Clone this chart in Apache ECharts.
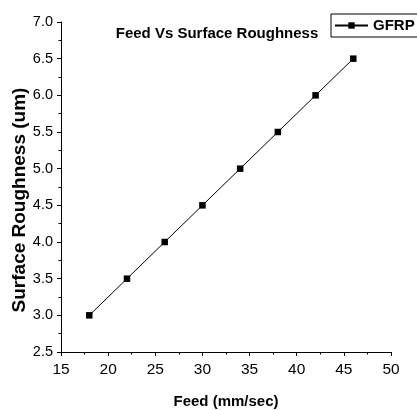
<!DOCTYPE html>
<html><head><meta charset="utf-8">
<script src="https://cdn.jsdelivr.net/npm/echarts@6/dist/echarts.min.js"></script>
<style>html,body{margin:0;padding:0;background:#fff}#c{width:417px;height:410px}</style>
</head><body><div id="c"></div>
<script>
const feed = [18, 22, 26, 30, 34, 38, 42, 46];
const roughness = [3.0, 3.5, 4.0, 4.5, 5.0, 5.5, 6.0, 6.5];
const seriesName = 'GFRP';
const chart = echarts.init(document.getElementById('c'));
const font = "'Liberation Sans', Arial, sans-serif";
chart.setOption({
  animation: false,
  backgroundColor: '#fff',
  title: {
    text: 'Feed Vs Surface Roughness',
    left: 217, top: 26, textAlign: 'center', padding: 0,
    textStyle: {fontFamily: font, fontWeight: 'bold', fontSize: 15, color: '#000'}
  },
  legend: {
    data: [seriesName],
    left: 331, top: 14,
    padding: [4, 6, 4, 3],
    itemWidth: 33, itemHeight: 8, itemGap: 4,
    borderColor: '#000', borderWidth: 1, borderRadius: 0,
    textStyle: {fontFamily: font, fontWeight: 'bold', fontSize: 15, color: '#000'}
  },
  grid: {left: 61, top: 22, width: 330, height: 330, containLabel: false, outerBoundsMode: 'none'},
  xAxis: {
    type: 'value', min: 15, max: 50, interval: 5,
    name: 'Feed (mm/sec)', nameLocation: 'middle', nameGap: 42, nameMoveOverlap: false,
    nameTextStyle: {fontFamily: font, fontWeight: 'bold', fontSize: 15, color: '#000'},
    axisLine: {show: true, lineStyle: {color: '#000', width: 1}},
    axisTick: {show: true, inside: false, length: 4, lineStyle: {color: '#000'}},
    minorTick: {show: true, splitNumber: 2, length: 2.5, lineStyle: {color: '#000'}},
    axisLabel: {fontFamily: font, fontSize: 15.5, color: '#000', margin: 10},
    splitLine: {show: false}
  },
  yAxis: {
    type: 'value', min: 2.5, max: 7.0, interval: 0.5,
    name: 'Surface Roughness (um)', nameLocation: 'middle', nameGap: 32, nameMoveOverlap: false,
    nameTextStyle: {fontFamily: font, fontWeight: 'bold', fontSize: 19, color: '#000', padding: [0, 26, 0, 0]},
    axisLine: {show: true, lineStyle: {color: '#000', width: 1}},
    axisTick: {show: true, inside: false, length: 4, lineStyle: {color: '#000'}},
    minorTick: {show: true, splitNumber: 2, length: 2.5, lineStyle: {color: '#000'}},
    axisLabel: {fontFamily: font, fontSize: 14.5, color: '#000', margin: 8,
      formatter: v => v.toFixed(1)},
    splitLine: {show: false}
  },
  series: [{
    name: seriesName, type: 'line',
    data: feed.map((x, i) => [x, roughness[i]]),
    symbol: 'rect', symbolSize: 6.5,
    itemStyle: {color: '#000'},
    lineStyle: {color: '#000', width: 1}
  }]
});
</script></body></html>
